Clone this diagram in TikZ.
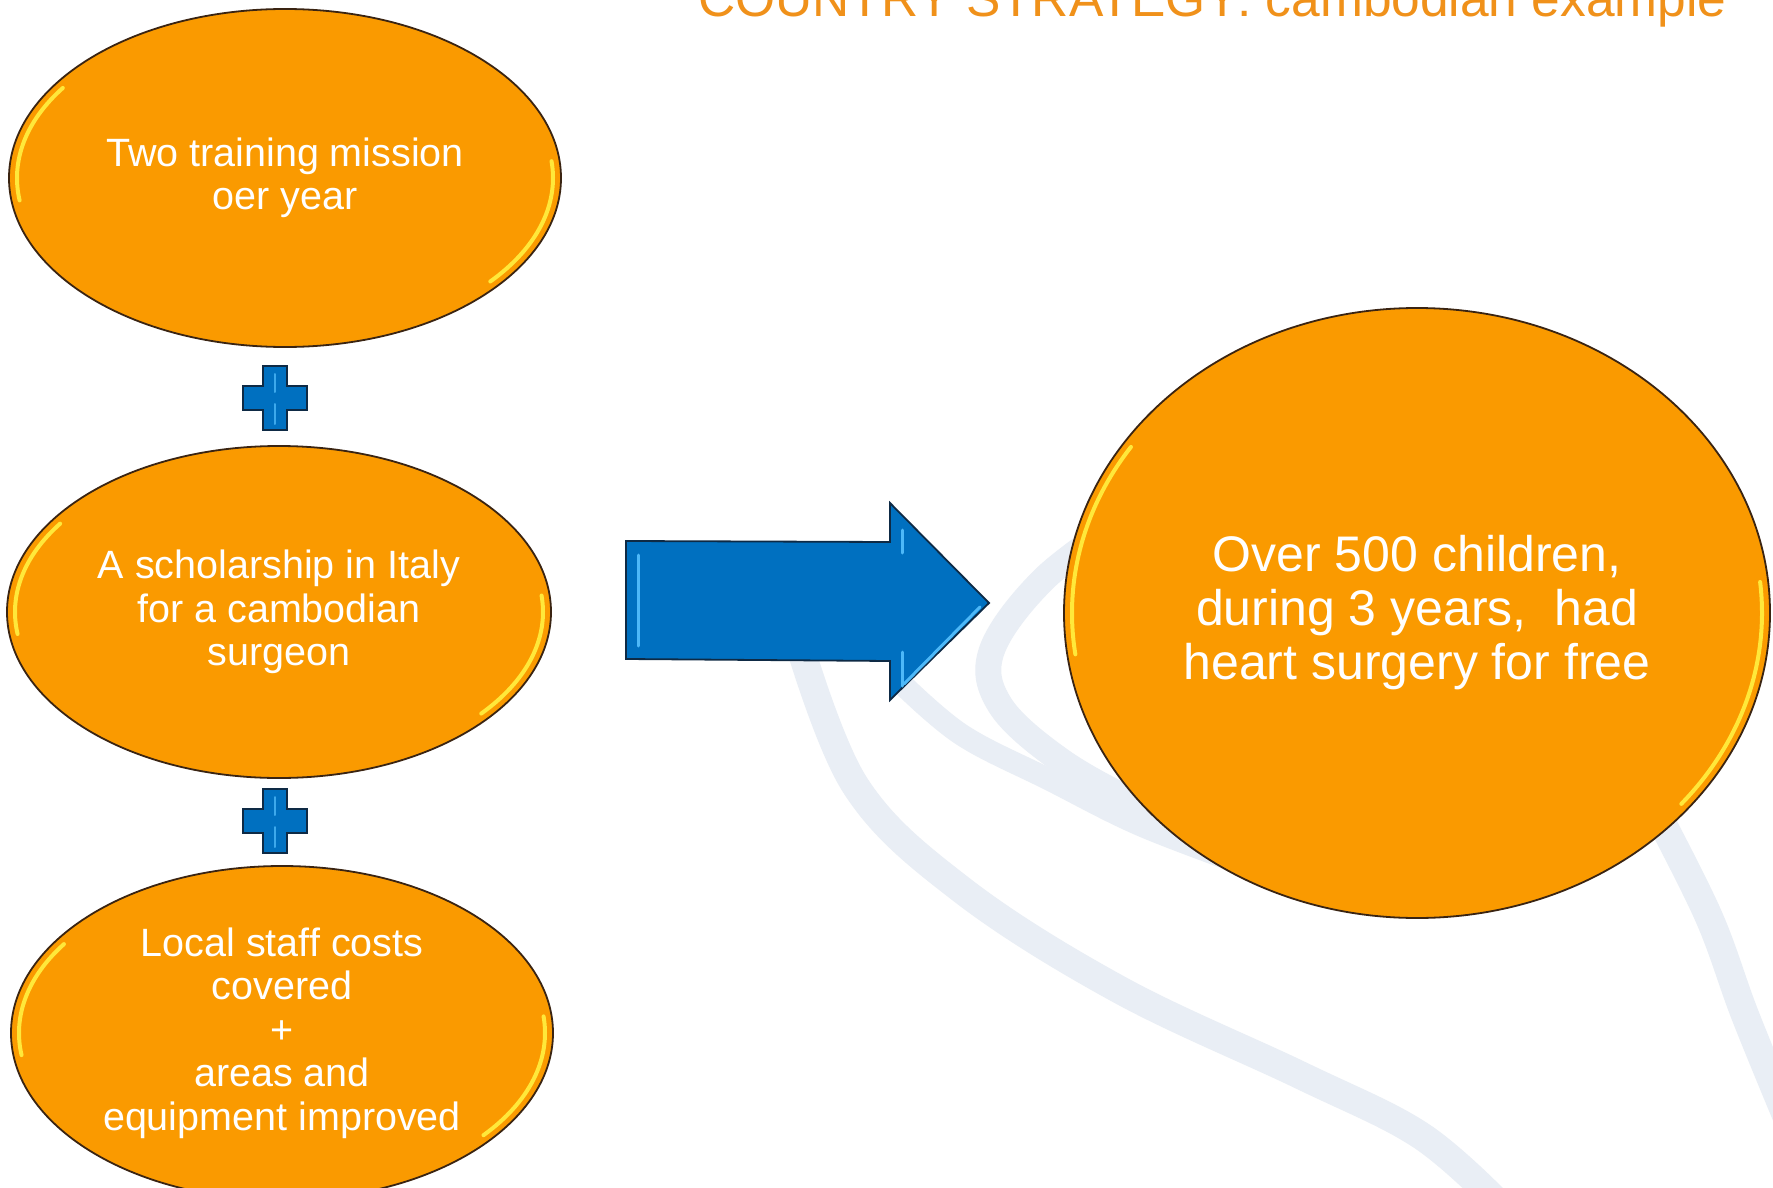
\documentclass[tikz,border=0pt]{standalone}
\usepackage{fontspec}
\setmainfont{Liberation Sans}
\usetikzlibrary{shapes.geometric}
\definecolor{ovalfill}{HTML}{FA9A00}
\definecolor{ovalline}{HTML}{3A2412}
\definecolor{titleorange}{HTML}{F0911A}
\definecolor{arrowblue}{HTML}{0070C0}
\definecolor{arrowline}{HTML}{0E2A45}
\definecolor{bluehl}{HTML}{4DB8F8}
\definecolor{swooshcol}{HTML}{E9EEF5}
\definecolor{shinecol}{HTML}{FFE83A}
\tikzset{
  oval/.style={ellipse, draw=ovalline, line width=1.8pt, fill=ovalfill, text=white,
    align=center, inner sep=0pt},
  smalltext/.style={font=\fontsize{39.5}{43.5}\selectfont},
  bigtext/.style={font=\fontsize{50}{54}\selectfont},
  swoosh/.style={draw=swooshcol, line cap=round, line join=round},
  shine/.style={draw=shinecol, line width=4pt, line cap=round},
  blueshape/.style={fill=arrowblue, draw=arrowline, line width=1.8pt, line join=miter},
  bluehighlight/.style={draw=bluehl, line width=3pt, line cap=round},
}
\newcommand\ovalshine[3]{%
  \begin{scope}[shift={(#1.center)}]
    \draw[shine] (172:{#2-8} and {#3-8}) arc[start angle=172, end angle=214, x radius={#2-8}, y radius={#3-8}];
    \draw[shine] (-6:{#2-8} and {#3-8}) arc[start angle=-6, end angle=40, x radius={#2-8}, y radius={#3-8}];
  \end{scope}}
\newcommand\pluscross[1]{%
  \begin{scope}[shift={(#1)}]
    \draw[blueshape] (-12,-32) -- (12,-32) -- (12,-12) -- (32,-12) -- (32,12) -- (12,12)
      -- (12,32) -- (-12,32) -- (-12,12) -- (-32,12) -- (-32,-12) -- (-12,-12) -- cycle;
    \draw[bluehighlight, line width=2pt, opacity=0.8] (0,-24) -- (0,-6);
    \draw[bluehighlight, line width=2pt, opacity=0.8] (0,6) -- (0,26);
  \end{scope}}
\begin{document}
\begin{tikzpicture}[x=1pt, y=-1pt]
\useasboundingbox (0,0) rectangle (1773,1188);
\clip (0,0) rectangle (1773,1188);
\fill[white] (0,0) rectangle (1773,1188);

% background swooshes
\draw[swoosh, line width=28pt] plot[smooth, tension=0.6] coordinates
  {(795,630) (855,785) (962,890) (1120,990) (1300,1075) (1420,1135) (1500,1205)};
\draw[swoosh, line width=26pt] plot[smooth, tension=0.6] coordinates
  {(1130,515) (1045,578) (992,650) (1000,705) (1060,760) (1140,805) (1230,845)};
\draw[swoosh, line width=22pt] plot[smooth, tension=0.6] coordinates
  {(900,682) (962,735) (1050,780) (1140,825) (1245,865)};
\draw[swoosh, line width=28pt] plot[smooth, tension=0.6] coordinates
  {(1650,800) (1708,915) (1745,1015) (1790,1125)};

% big arrow
\draw[blueshape] (626,541) -- (890,542) -- (890,503) -- (989,603) -- (890,700)
  -- (890,661) -- (626,659) -- cycle;
\draw[bluehighlight] (638,555) -- (638,646);
\draw[bluehighlight] (902,530) -- (902,553);
\draw[bluehighlight] (902,652) -- (902,686);
\draw[bluehighlight] (904,684) -- (980,607);

% ovals
\node[oval, smalltext, minimum width=552pt, minimum height=338pt] (e1) at (285,178)
  {Two training mission\\oer year};
\node[oval, smalltext, minimum width=544pt, minimum height=332pt] (e2) at (279,612)
  {A scholarship in Italy\\for a cambodian\\surgeon};
\node[oval, smalltext, minimum width=542pt, minimum height=334pt] (e3) at (282,1033)
  {Local staff costs\\covered\\+\\areas and\\equipment improved};
\node[oval, bigtext, minimum width=706pt, minimum height=610pt] (res) at (1417,613)
  {Over 500 children,\\during 3 years,\ \ had\\heart surgery for free};

\ovalshine{e1}{276}{169}
\ovalshine{e2}{272}{166}
\ovalshine{e3}{271}{167}
\ovalshine{res}{353}{305}

% plus signs
\coordinate (p1) at (275,398);
\coordinate (p2) at (275,821);
\pluscross{p1}
\pluscross{p2}

% title
\node[anchor=base west, text=titleorange, inner sep=0pt,
  font=\fontsize{51.5}{60}\selectfont] (title) at (698,17)
  {COUNTRY STRATEGY: cambodian example};
\end{tikzpicture}
\end{document}
